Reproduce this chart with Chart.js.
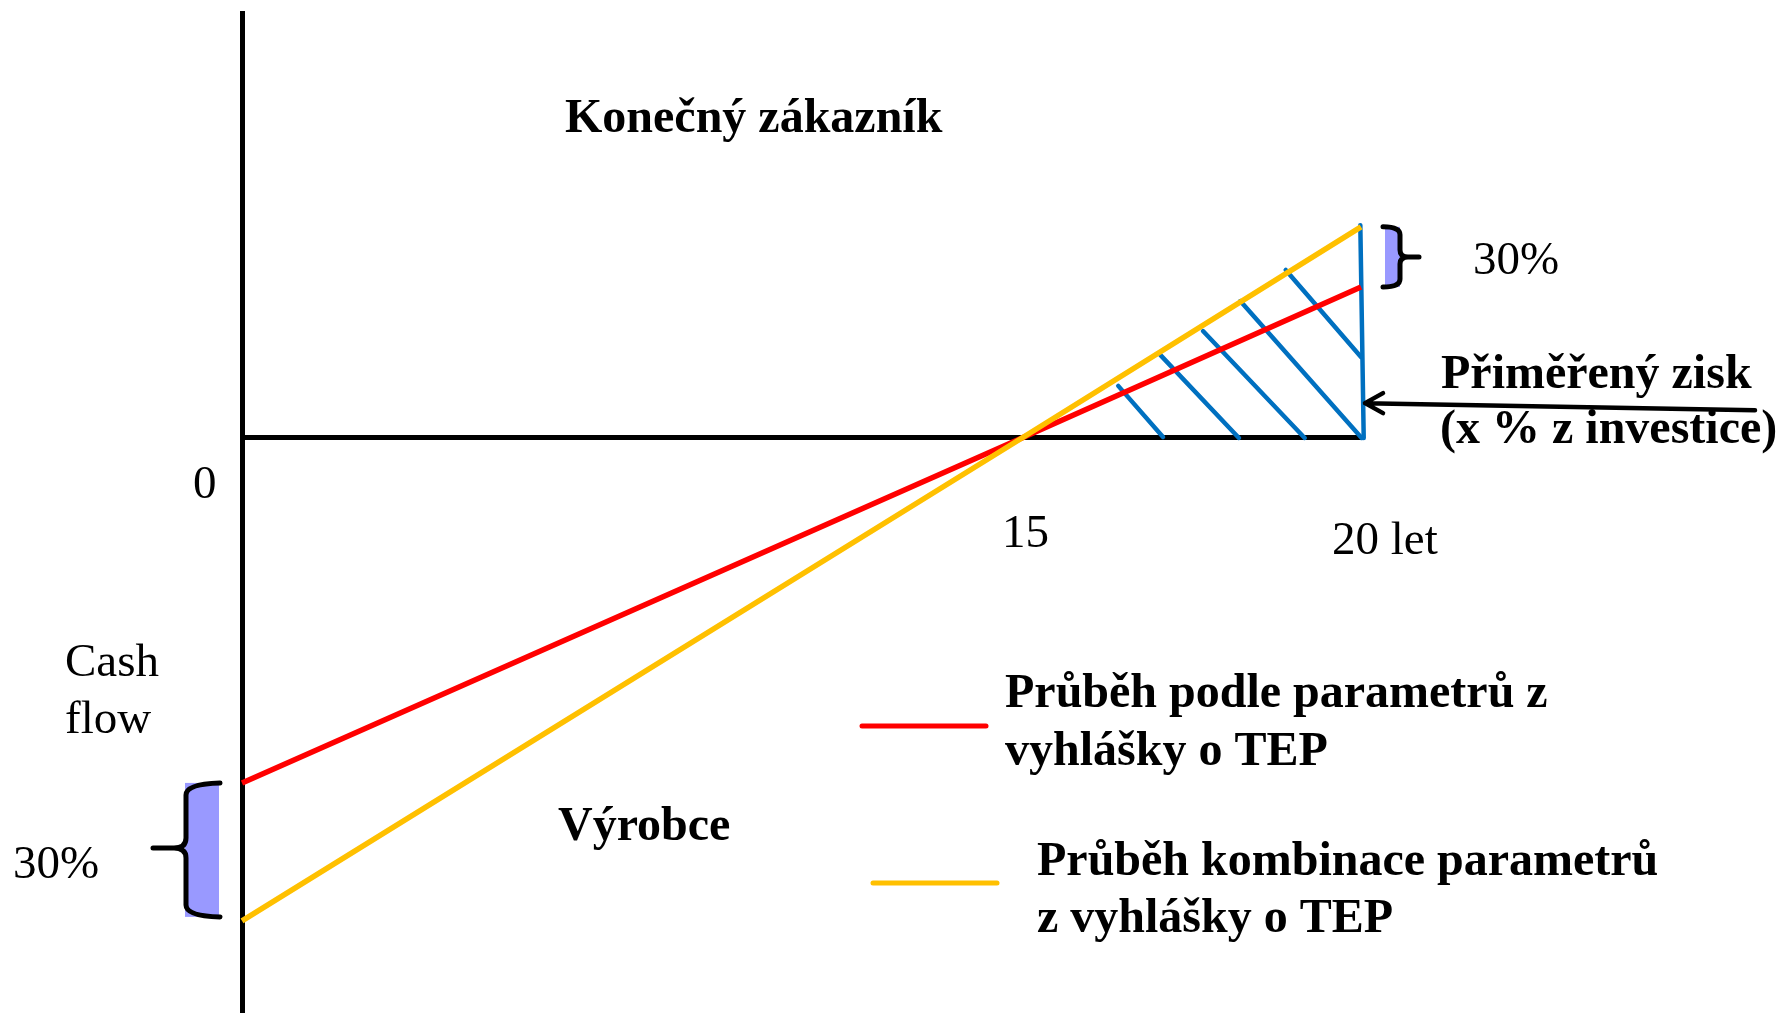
<!DOCTYPE html>
<html>
<head>
<meta charset="utf-8">
<script src="https://cdn.jsdelivr.net/npm/chart.js@4/dist/chart.umd.min.js"></script>
<style>
  html, body { margin: 0; padding: 0; background: #ffffff; }
  canvas { display: block; }
</style>
</head>
<body>
<canvas id="c" width="1779" height="1013"></canvas>
<script>
// ---------------- DATA ----------------
const years = [0, 15, 20];
const redValues = [-100, 0, 43.8];       // Průběh podle parametrů z vyhlášky o TEP
const yellowValues = [-140, 0, 61.2];    // Průběh kombinace parametrů z vyhlášky o TEP
const seriesLabels = ['Průběh podle parametrů z vyhlášky o TEP', 'Průběh kombinace parametrů z vyhlášky o TEP'];
const legendLines = [['Průběh podle parametrů z', 'vyhlášky o TEP'], ['Průběh kombinace parametrů', 'z vyhlášky o TEP']];
// hatch segments of the "přiměřený zisk" area (years, cash flow)
const hatchX = [[16.42, 17.08], [17.04, 18.20], [17.67, 19.17], [18.22, 20.01], [18.89, 20.0], [19.99, 20.04]];
const hatchY = [[15.1, 0.3], [24.1, 0], [31.0, 0], [39.7, 0], [48.7, 23.5], [61.7, 0]];
const xTickValues = [0, 15, 20];
const xTickLabels = ['0', '15', '20 let'];
const yAxisMin = -166.7;
const yAxisMax = 123.2;
const profitArrowValue = 10.1;
const diffLabel = '30%';
const topLabel = 'Konečný zákazník';
const bottomLabel = 'Výrobce';
const yAxisLabel = ['Cash', 'flow'];
const profitLabel = ['Přiměřený zisk', '(x % z investice)'];

// ---------------- piecewise x scale (schematic axis) ----------------
const xBreakValues = [0, 15, 20];
const xBreakFractions = [0, 0.697, 1];
function toDecimal(v) {
  for (let i = 0; i < xBreakValues.length - 1; i++) {
    if (v <= xBreakValues[i + 1] || i === xBreakValues.length - 2) {
      const t = (v - xBreakValues[i]) / (xBreakValues[i + 1] - xBreakValues[i]);
      return xBreakFractions[i] + t * (xBreakFractions[i + 1] - xBreakFractions[i]);
    }
  }
  return 0;
}
function fromDecimal(d) {
  for (let i = 0; i < xBreakFractions.length - 1; i++) {
    if (d <= xBreakFractions[i + 1] || i === xBreakFractions.length - 2) {
      const t = (d - xBreakFractions[i]) / (xBreakFractions[i + 1] - xBreakFractions[i]);
      return xBreakValues[i] + t * (xBreakValues[i + 1] - xBreakValues[i]);
    }
  }
  return 0;
}
class PiecewiseScale extends Chart.LinearScale {
  getPixelForValue(value) {
    if (value === null || value === undefined || isNaN(value)) return NaN;
    return this.getPixelForDecimal(toDecimal(value));
  }
  getValueForPixel(pixel) {
    return fromDecimal(this.getDecimalForPixel(pixel));
  }
}
PiecewiseScale.id = 'piecewise';
PiecewiseScale.defaults = Chart.LinearScale.defaults;
Chart.register(PiecewiseScale);

// ---------------- datasets ----------------
const pts = (xs, ys) => xs.map((v, i) => ({x: v, y: ys[i]}));
const datasets = [
  {label: seriesLabels[1], data: pts(years, yellowValues), borderColor: '#FFC000', borderWidth: 5.5},
  {label: seriesLabels[0], data: pts(years, redValues), borderColor: '#FF0000', borderWidth: 5.5}
];
hatchX.forEach((hx, i) => {
  datasets.push({label: 'hatch' + i, data: pts(hx, hatchY[i]), borderColor: '#0070C0', borderWidth: 4.5, borderCapStyle: 'round'});
});
datasets.forEach(d => { d.showLine = true; d.pointRadius = 0; d.clip = false; d.fill = false; });

const SERIF = '"Liberation Serif", "Times New Roman", serif';
function txt(ctx, s, x, y, bold) {
  ctx.font = (bold ? 'bold 48px ' : '47px ') + SERIF;
  ctx.fillText(s, x, y);
}

const decorPlugin = {
  id: 'decor',
  afterDraw(chart) {
    const {ctx, scales: {x, y}} = chart;
    const x0 = x.getPixelForValue(0);
    const xEnd = x.getPixelForValue(20);
    ctx.save();
    ctx.fillStyle = '#000';
    ctx.textAlign = 'left';
    ctx.textBaseline = 'alphabetic';

    // --- left brace (difference at start) ---
    const yR0 = y.getPixelForValue(redValues[0]);
    const yY0 = y.getPixelForValue(yellowValues[0]) - 4;
    ctx.fillStyle = '#9999FF';
    ctx.fillRect(x0 - 57, yR0, 34, yY0 - yR0);
    ctx.strokeStyle = '#000';
    ctx.lineWidth = 5;
    ctx.lineCap = 'round';
    ctx.lineJoin = 'round';
    let xl = x0 - 56, xr = x0 - 22, xt = x0 - 89, ym = (yR0 + yY0) / 2 - 2;
    ctx.beginPath();
    ctx.moveTo(xr, yR0);
    ctx.quadraticCurveTo(xl, yR0 + 1, xl, yR0 + 12);
    ctx.lineTo(xl, ym - 10);
    ctx.quadraticCurveTo(xl, ym, xl - 12, ym);
    ctx.lineTo(xt, ym);
    ctx.moveTo(xl - 12, ym);
    ctx.quadraticCurveTo(xl, ym, xl, ym + 10);
    ctx.lineTo(xl, yY0 - 12);
    ctx.quadraticCurveTo(xl, yY0 - 1, xr, yY0);
    ctx.stroke();

    // --- right brace (difference at end) ---
    const yY1 = y.getPixelForValue(yellowValues[2]);
    const yR1 = y.getPixelForValue(redValues[2]);
    ctx.fillStyle = '#9999FF';
    ctx.fillRect(xEnd + 24, yY1, 15, yR1 - yY1);
    xl = xEnd + 22; xr = xEnd + 39; xt = xEnd + 58; ym = (yY1 + yR1) / 2;
    ctx.beginPath();
    ctx.moveTo(xl, yY1);
    ctx.quadraticCurveTo(xr, yY1, xr, yY1 + 8);
    ctx.lineTo(xr, ym - 7);
    ctx.quadraticCurveTo(xr, ym, xr + 8, ym);
    ctx.lineTo(xt, ym);
    ctx.moveTo(xr + 8, ym);
    ctx.quadraticCurveTo(xr, ym, xr, ym + 7);
    ctx.lineTo(xr, yR1 - 8);
    ctx.quadraticCurveTo(xr, yR1, xl, yR1);
    ctx.stroke();

    // --- arrow to profit ---
    const ya = y.getPixelForValue(profitArrowValue);
    ctx.lineWidth = 4.5;
    ctx.beginPath();
    ctx.moveTo(xEnd + 394, ya + 7);
    ctx.lineTo(xEnd + 4, ya);
    ctx.moveTo(xEnd + 22, ya - 10);
    ctx.lineTo(xEnd + 4, ya);
    ctx.lineTo(xEnd + 22, ya + 10);
    ctx.stroke();

    // --- texts ---
    ctx.fillStyle = '#000';
    txt(ctx, topLabel, 565, 132, true);
    txt(ctx, bottomLabel, 558, 840, true);
    txt(ctx, yAxisLabel[0], 65, 676, false);
    txt(ctx, yAxisLabel[1], 65, 733, false);
    txt(ctx, diffLabel, 13, 878, false);
    txt(ctx, diffLabel, 1473, 274, false);
    txt(ctx, profitLabel[0], 1441, 388, true);
    txt(ctx, profitLabel[1], 1440, 443, true);

    // --- x tick labels (schematic axis) ---
    const tickDx = [-49, -20, -29];
    const tickBase = [498, 547, 554];
    xTickValues.forEach((v, i) => {
      txt(ctx, xTickLabels[i], x.getPixelForValue(v) + tickDx[i], tickBase[i], false);
    });

    // --- legend ---
    const legendCfg = [
      {ds: 1, lx1: 862, lx2: 986, ly: 726, tx: 1005, base: [707, 765]},
      {ds: 0, lx1: 873, lx2: 997, ly: 883, tx: 1037, base: [875, 932]}
    ];
    legendCfg.forEach((c, i) => {
      ctx.strokeStyle = chart.data.datasets[c.ds].borderColor;
      ctx.lineWidth = 5;
      ctx.lineCap = 'round';
      ctx.beginPath();
      ctx.moveTo(c.lx1, c.ly);
      ctx.lineTo(c.lx2, c.ly);
      ctx.stroke();
      ctx.fillStyle = '#000';
      legendLines[i].forEach((s, j) => txt(ctx, s, c.tx, c.base[j], true));
    });
    ctx.restore();
  }
};

new Chart(document.getElementById('c'), {
  type: 'scatter',
  data: {datasets},
  options: {
    responsive: false,
    devicePixelRatio: 1,
    animation: false,
    layout: {padding: {left: 242, right: 418, top: 13, bottom: 0}},
    plugins: {legend: {display: false}, tooltip: {enabled: false}},
    scales: {
      x: {
        type: 'piecewise',
        min: 0, max: 20,
        position: {y: 0},
        ticks: {display: false},
        grid: {drawOnChartArea: false, drawTicks: false},
        border: {display: true, color: '#000', width: 5}
      },
      y: {
        type: 'linear',
        min: yAxisMin, max: yAxisMax,
        position: {x: 0},
        ticks: {display: false},
        grid: {drawOnChartArea: false, drawTicks: false},
        border: {display: true, color: '#000', width: 5}
      }
    }
  },
  plugins: [decorPlugin]
});
</script>
</body>
</html>
